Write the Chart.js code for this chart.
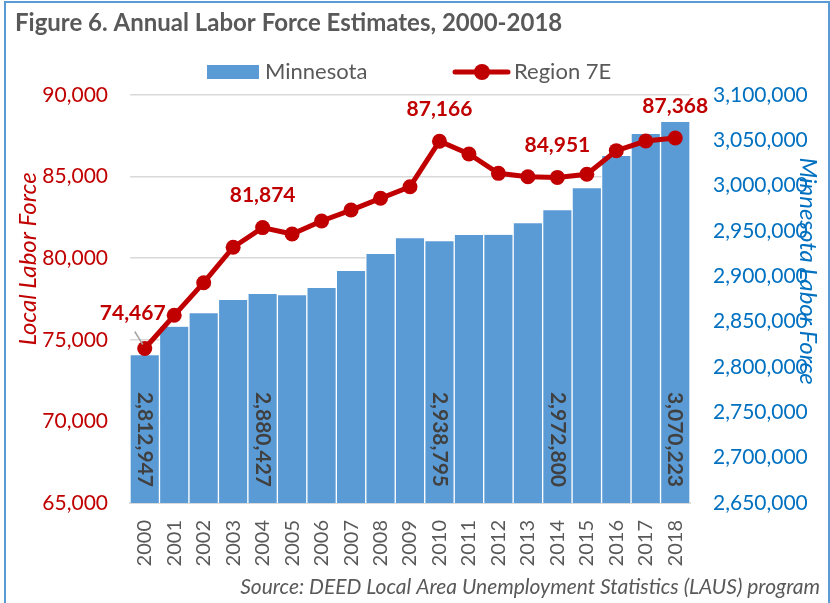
<!DOCTYPE html>
<html>
<head>
<meta charset="utf-8">
<script src="https://cdn.jsdelivr.net/npm/chart.js@4"></script>
<style>
  html, body { margin: 0; padding: 0; background: #ffffff; }
  #wrap { position: relative; width: 830px; height: 603px; }
</style>
</head>
<body>
<div id="wrap"><canvas id="chart" width="830" height="603"></canvas></div>
<script>
// Annual labor force, 2000-2018
const years = ['2000','2001','2002','2003','2004','2005','2006','2007','2008','2009',
               '2010','2011','2012','2013','2014','2015','2016','2017','2018'];

// Minnesota labor force (right axis)
const minnesota = [2812947, 2844500, 2859200, 2873900, 2880427, 2879100, 2887100, 2905900,
                   2924600, 2941900, 2938795, 2945600, 2945800, 2958500, 2972800, 2997100,
                   3032700, 3057000, 3070223];

// Region 7E labor force (left axis)
const region7E = [74467, 76500, 78500, 80670, 81874, 81480, 82280, 82950, 83670, 84380,
                  87166, 86385, 85200, 84990, 84951, 85140, 86590, 87180, 87368];

// Years whose values are printed on the chart
const labeledYears = ['2000', '2004', '2010', '2014', '2018'];

const leftTicks = [65000, 70000, 75000, 80000, 85000, 90000];
const rightTicks = [2650000, 2700000, 2750000, 2800000, 2850000, 2900000, 2950000, 3000000, 3050000, 3100000];

const FONT = 'Lato, "Open Sans", sans-serif';
const RED = '#C00000';
const BLUE_BAR = '#5B9BD5';
const BLUE_TXT = '#0070C0';
const GREY = '#595959';

const fmt = v => Number(v).toLocaleString('en-US');

// Frame, title, legend, axis titles, source line and value labels
const decorations = {
  id: 'decorations',
  afterDraw(chart) {
    const ctx = chart.ctx;
    ctx.save();

    // outer frame
    ctx.strokeStyle = '#5B9BD5';
    ctx.lineWidth = 2;
    ctx.strokeRect(5, 2, 824, 612);

    // title
    ctx.fillStyle = GREY;
    ctx.font = 'bold 24px ' + FONT;
    ctx.textAlign = 'left';
    ctx.textBaseline = 'middle';
    ctx.fillText('Figure 6. Annual Labor Force Estimates, 2000-2018', 15, 23);

    // legend
    ctx.fillStyle = BLUE_BAR;
    ctx.fillRect(207, 65, 52, 14);
    ctx.fillStyle = GREY;
    ctx.font = '22px ' + FONT;
    ctx.fillText('Minnesota', 265, 72);
    ctx.strokeStyle = RED;
    ctx.lineWidth = 5;
    ctx.lineCap = 'round';
    ctx.beginPath();
    ctx.moveTo(455, 72);
    ctx.lineTo(508, 72);
    ctx.stroke();
    ctx.fillStyle = RED;
    ctx.beginPath();
    ctx.arc(482, 72, 8, 0, Math.PI * 2);
    ctx.fill();
    ctx.fillStyle = GREY;
    ctx.fillText('Region 7E', 514, 72);

    // axis titles
    ctx.font = 'italic 24px ' + FONT;
    ctx.textAlign = 'center';
    ctx.fillStyle = RED;
    ctx.save();
    ctx.translate(28, 259);
    ctx.rotate(-Math.PI / 2);
    ctx.fillText('Local Labor Force', 0, 0);
    ctx.restore();
    ctx.fillStyle = BLUE_TXT;
    ctx.save();
    ctx.translate(808, 271);
    ctx.rotate(Math.PI / 2);
    ctx.fillText('Minnesota Labor Force', 0, 0);
    ctx.restore();

    // source
    ctx.fillStyle = GREY;
    ctx.font = 'italic 21px ' + FONT;
    ctx.textAlign = 'right';
    ctx.fillText('Source: DEED Local Area Unemployment Statistics (LAUS) program', 820, 587);

    ctx.restore();
  },
  afterDatasetsDraw(chart) {
    const ctx = chart.ctx;
    const lineMeta = chart.getDatasetMeta(0);
    const barMeta = chart.getDatasetMeta(1);
    const baseY = chart.scales.y1.getPixelForValue(rightTicks[0]);
    ctx.save();

    // Minnesota values, vertical, near the bar base
    ctx.font = 'bold 21px ' + FONT;
    ctx.fillStyle = '#404040';
    ctx.textBaseline = 'middle';
    barMeta.data.forEach((bar, i) => {
      if (!labeledYears.includes(years[i])) return;
      ctx.save();
      ctx.translate(bar.x, baseY - 16);
      ctx.rotate(Math.PI / 2);
      ctx.textAlign = 'right';
      ctx.fillText(fmt(minnesota[i]), 0, 0);
      ctx.restore();
    });

    // Region 7E values above the points
    ctx.font = 'bold 21px ' + FONT;
    ctx.fillStyle = RED;
    ctx.textAlign = 'center';
    lineMeta.data.forEach((pt, i) => {
      if (!labeledYears.includes(years[i])) return;
      if (i === 0) {
        // first label sits up-left with a leader line
        ctx.strokeStyle = '#A6A6A6';
        ctx.lineWidth = 1.5;
        ctx.beginPath();
        ctx.moveTo(pt.x - 10, pt.y - 17);
        ctx.lineTo(pt.x - 2, pt.y - 4);
        ctx.stroke();
        ctx.fillText(fmt(region7E[i]), pt.x - 12, pt.y - 35);
      } else {
        ctx.fillText(fmt(region7E[i]), pt.x, pt.y - 32);
      }
    });
    ctx.restore();
  }
};

new Chart(document.getElementById('chart'), {
  data: {
    labels: years,
    datasets: [
      {
        type: 'line',
        label: 'Region 7E',
        data: region7E,
        yAxisID: 'y',
        borderColor: RED,
        backgroundColor: RED,
        borderWidth: 5,
        pointRadius: 7.5,
        pointBackgroundColor: RED,
        pointBorderWidth: 0,
        tension: 0,
        order: 1
      },
      {
        type: 'bar',
        label: 'Minnesota',
        data: minnesota,
        yAxisID: 'y1',
        backgroundColor: BLUE_BAR,
        borderColor: '#FFFFFF',
        borderWidth: { left: 1, right: 1, top: 0, bottom: 0 },
        borderSkipped: false,
        categoryPercentage: 1,
        barPercentage: 1,
        order: 2
      }
    ]
  },
  options: {
    responsive: false,
    animation: false,
    devicePixelRatio: 1,
    layout: { padding: { top: 95, left: 0, right: 0, bottom: 0 } },
    plugins: {
      legend: { display: false },
      title: { display: false },
      tooltip: { enabled: false }
    },
    scales: {
      x: {
        grid: { display: false, drawTicks: false },
        border: { display: true, color: '#D9D9D9', width: 2 },
        ticks: {
          minRotation: 90, maxRotation: 90, autoSkip: false, padding: 17,
          color: GREY, font: { size: 20, family: FONT }
        },
        afterFit: s => { s.height = 100; }
      },
      y: {
        position: 'left',
        min: leftTicks[0],
        max: leftTicks[leftTicks.length - 1],
        afterBuildTicks: s => { s.ticks = leftTicks.map(v => ({ value: v })); },
        grid: { color: '#D9D9D9', lineWidth: 1.5, drawTicks: false },
        border: { display: false },
        ticks: {
          padding: 22, color: RED, font: { size: 21, family: FONT },
          callback: v => fmt(v)
        },
        afterFit: s => { s.width = 130; }
      },
      y1: {
        position: 'right',
        min: rightTicks[0],
        max: rightTicks[rightTicks.length - 1],
        afterBuildTicks: s => { s.ticks = rightTicks.map(v => ({ value: v })); },
        grid: { drawOnChartArea: false, drawTicks: false },
        border: { display: false },
        ticks: {
          padding: 23, color: BLUE_TXT, font: { size: 21, family: FONT },
          callback: v => fmt(v)
        },
        afterFit: s => { s.width = 140; }
      }
    }
  },
  plugins: [decorations]
});
</script>
</body>
</html>
